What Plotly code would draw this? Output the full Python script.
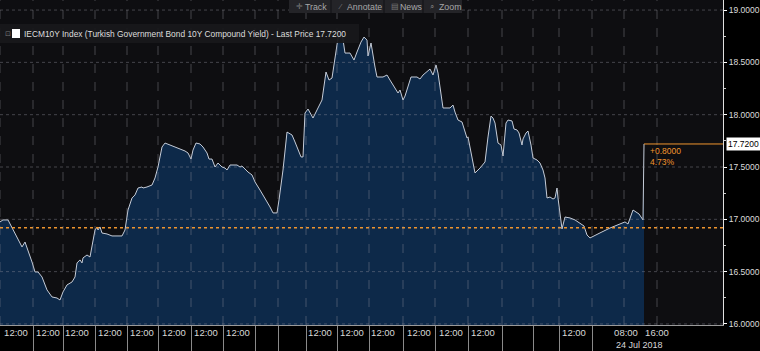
import plotly.graph_objects as go

# ---- data (time position in chart units, yield %) ----
t = [0, 3, 8, 13, 17, 22, 25, 28, 32, 35, 38, 42, 47, 52, 57, 60, 63, 67, 72, 75, 77, 80, 82, 83, 87, 90,
     92, 95, 97, 98, 100, 102, 107, 112, 122, 125, 128, 132, 135, 138, 142, 143, 147, 152, 155, 158, 162,
     165, 170, 175, 180, 185, 188, 191, 193, 196, 200, 203, 207, 209, 212, 215, 218, 222, 225, 227, 230,
     237, 240, 242, 245, 248, 252, 255, 260, 265, 270, 273, 277, 279, 283, 287, 292, 295, 298, 301, 303,
     305, 308, 313, 317, 322, 326, 329, 332, 334, 338, 342, 345, 350, 354, 357, 361, 364, 367, 368, 371,
     375, 377, 383, 387, 390, 395, 398, 400, 403, 405, 408, 411, 417, 420, 423, 427, 430, 433, 436, 438,
     440, 443, 450, 453, 455, 458, 462, 465, 467, 468, 472, 475, 480, 485, 488, 491, 493, 495, 498, 501,
     503, 506, 508, 512, 514, 517, 519, 522, 523, 526, 528, 531, 533, 537, 540, 543, 545, 547, 550, 553,
     555, 557, 558, 562, 565, 570, 575, 580, 584, 587, 590, 600, 610, 625, 628, 633, 639, 643, 644]
yld = [16.975, 16.994, 16.994, 16.898, 16.831, 16.736, 16.783, 16.707, 16.592, 16.497, 16.497, 16.449,
       16.325, 16.258, 16.248, 16.229, 16.306, 16.373, 16.401, 16.449, 16.583, 16.612, 16.583, 16.631,
       16.659, 16.640, 16.736, 16.898, 16.927, 16.898, 16.927, 16.869, 16.860, 16.841, 16.841, 16.898,
       17.089, 17.204, 17.233, 17.299, 17.309, 17.299, 17.309, 17.328, 17.395, 17.500, 17.691, 17.729,
       17.710, 17.691, 17.672, 17.653, 17.634, 17.576, 17.662, 17.729, 17.720, 17.691, 17.634, 17.576,
       17.576, 17.500, 17.538, 17.500, 17.490, 17.471, 17.519, 17.519, 17.500, 17.510, 17.481, 17.452,
       17.424, 17.357, 17.280, 17.204, 17.118, 17.061, 17.061, 17.185, 17.471, 17.834, 17.806, 17.739,
       17.662, 17.596, 17.596, 18.016, 18.054, 17.968, 18.045, 18.140, 18.408, 18.331, 18.350, 18.475,
       18.732, 18.780, 18.589, 18.589, 18.522, 18.599, 18.694, 18.742, 18.713, 18.561, 18.685, 18.455,
       18.360, 18.360, 18.379, 18.331, 18.255, 18.207, 18.236, 18.140, 18.178, 18.264, 18.360, 18.360,
       18.341, 18.379, 18.408, 18.436, 18.379, 18.475, 18.398, 18.264, 18.064, 18.064, 18.092, 18.025,
       17.949, 17.930, 17.834, 17.777, 17.787, 17.586, 17.443, 17.490, 17.548, 17.787, 17.987, 17.968,
       17.920, 17.729, 17.710, 17.605, 17.920, 17.949, 17.940, 17.863, 17.854, 17.825, 17.710, 17.768,
       17.825, 17.844, 17.710, 17.586, 17.567, 17.538, 17.471, 17.395, 17.204, 17.213, 17.194, 17.204,
       17.299, 17.204, 16.908, 17.022, 17.013, 16.994, 16.965, 16.936, 16.850, 16.822, 16.870, 16.917,
       16.975, 16.955, 17.089, 17.051, 16.994, 17.720]

prev_close = 16.92
last_price = 17.72

label_pos = [16, 48, 77, 110, 142, 174, 206, 238, 320, 352, 383, 419, 451, 483, 574, 626, 657]
label_txt = ["12:00"] * 15 + ["08:00", "16:00"]
day_breaks = [33, 63, 95, 127, 158, 191, 223, 255, 278, 306, 337, 369, 403, 435, 468, 502, 533, 559, 592]
extra_grid = [0, 624, 657]
y_ticks = [16.0, 16.5, 17.0, 17.5, 18.0, 18.5, 19.0]

title_txt = "IECM10Y Index (Turkish Government Bond 10Y Compound Yield) - Last Price %.4f" % last_price
toolbar = [("✛", "Track"), ("⁄", "Annotate"), ("▤", "News"), ("⌕", "Zoom")]

FONT = "Liberation Sans"
ORANGE = "#f0952e"
GRID = "rgba(150,150,160,0.40)"

fig = go.Figure()
fig.add_trace(go.Scatter(x=t, y=yld, mode="lines", fill="tozeroy",
                         fillcolor="#0d2949", line=dict(color="#c5ccd8", width=1),
                         hoverinfo="skip", showlegend=False))
fig.add_trace(go.Scatter(x=[t[0], 723], y=[prev_close, prev_close], mode="lines", xaxis="x2",
                         line=dict(color=ORANGE, width=1.5, dash="dot"),
                         hoverinfo="skip", showlegend=False))

X_RANGE = [0, 723]
fig.update_layout(
    width=760, height=351,
    margin=dict(l=0, r=37, t=0, b=26, autoexpand=False),
    paper_bgcolor="#000000", plot_bgcolor="#0e0e11",
    font=dict(family=FONT, color="#d8d8d8", size=10),
    xaxis=dict(range=X_RANGE, tickmode="array", tickvals=label_pos, ticktext=label_txt,
               showgrid=False, zeroline=False, ticks="", showline=False, automargin=False,
               tickangle=0, tickfont=dict(size=9.5, color="#d8d8d8")),
    xaxis2=dict(range=X_RANGE, overlaying="x", side="bottom", tickmode="array",
                tickvals=day_breaks, showticklabels=False, ticks="outside", ticklen=26,
                tickcolor="#8a8a8a", tickwidth=1, showgrid=False, automargin=False,
                zeroline=False, showline=True, linecolor="#9a9a9a"),
    yaxis=dict(range=[15.99, 19.096], side="right", tickmode="array", tickvals=y_ticks,
               tickformat=".4f", ticks="outside", ticklen=3, tickcolor="#ffffff",
               showline=True, linecolor="#e0e0e0", linewidth=1, automargin=False,
               showgrid=False, zeroline=False,
               tickfont=dict(size=8.5, color="#dcdcdc"),
               minor=dict(dtick=0.25, ticks="outside", ticklen=2, tickcolor="#cccccc", showgrid=False)),
    showlegend=False,
)

# grid drawn above the area fill (as in the reference)
for g in day_breaks + extra_grid:
    fig.add_shape(type="line", xref="x", yref="paper", x0=g, x1=g, y0=0, y1=1,
                  line=dict(color=GRID, width=1, dash="dash"), layer="above")
for yv in y_ticks:
    fig.add_shape(type="line", xref="paper", yref="y", x0=0, x1=1, y0=yv, y1=yv,
                  line=dict(color=GRID, width=1, dash="dot"), layer="above")

# last price box
fig.add_shape(type="line", xref="x", yref="y", x0=t[-1], x1=723, y0=last_price, y1=last_price,
              line=dict(color=ORANGE, width=1))
chg = last_price - prev_close
fig.add_annotation(x=t[-1] + 4, y=last_price, xref="x", yref="y", xanchor="left", yanchor="top",
                   text="+%.4f<br>%.2f%%" % (chg, chg / prev_close * 100), showarrow=False,
                   align="left", font=dict(color=ORANGE, size=8.5), yshift=0)
fig.add_annotation(x=1, y=last_price, xref="paper", yref="y", xanchor="left", yanchor="middle",
                   text="%.4f" % last_price, showarrow=False, bgcolor="#ffffff",
                   font=dict(color="#000000", size=8.5), xshift=3, borderpad=1)

# date label
fig.add_annotation(x=639, y=-0.062, xref="x", yref="paper", text="24 Jul 2018", showarrow=False,
                   xanchor="center", yanchor="middle", font=dict(size=9, color="#d8d8d8"))

# toolbar
seg_edges = [289, 331, 384, 423, 462]
fig.add_shape(type="rect", xref="x", yref="paper", x0=seg_edges[0], x1=seg_edges[-1], y0=1 - 13 / 325,
              y1=1.0, fillcolor="#242428", line=dict(width=0))
for xs in seg_edges[1:-1]:
    fig.add_shape(type="line", xref="x", yref="paper", x0=xs, x1=xs, y0=1 - 13 / 325, y1=1.0,
                  line=dict(color="#111114", width=1))
for (icon, word), x0 in zip(toolbar, seg_edges[:-1]):
    fig.add_annotation(x=x0 + 5, y=1 - 6.5 / 325, xref="x", yref="paper", text=icon, showarrow=False,
                       xanchor="left", yanchor="middle", font=dict(size=8, color="#7a7a7a"))
    fig.add_annotation(x=x0 + 14, y=1 - 6.5 / 325, xref="x", yref="paper", text=word, showarrow=False,
                       xanchor="left", yanchor="middle", font=dict(size=8.8, color="#a8a8a8"))

# legend box
fig.add_shape(type="rect", xref="x", yref="paper", x0=0, x1=359, y0=1 - 43 / 325, y1=1 - 24 / 325,
              fillcolor="rgba(24,24,27,0.95)", line=dict(width=0))
fig.add_shape(type="rect", xref="x", yref="paper", x0=12, x1=20, y0=1 - 38 / 325, y1=1 - 29 / 325,
              fillcolor="#ffffff", line=dict(width=0))
fig.add_annotation(x=3, y=1 - 33.5 / 325, xref="x", yref="paper", text="⊡", showarrow=False,
                   xanchor="left", yanchor="middle", font=dict(size=7, color="#777777"))
fig.add_annotation(x=22, y=1 - 33.5 / 325, xref="x", yref="paper", text=title_txt, showarrow=False,
                   xanchor="left", yanchor="middle", font=dict(size=8.4, color="#dddddd"))

fig.write_html("out.html")
